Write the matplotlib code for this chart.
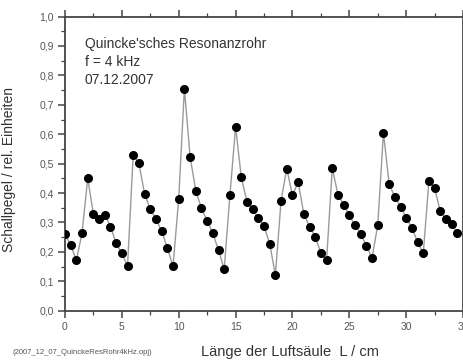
import matplotlib
matplotlib.use("Agg")
import matplotlib.pyplot as plt
from matplotlib.ticker import MultipleLocator, FuncFormatter

# Schallpegel entlang der Luftsaeule (Quincke-Rohr, f = 4 kHz)
laenge_cm = [i * 0.5 for i in range(70)]
schallpegel = [
    0.260, 0.225, 0.171, 0.263, 0.450, 0.328, 0.313, 0.327, 0.286, 0.229,
    0.195, 0.152, 0.530, 0.501, 0.397, 0.345, 0.311, 0.271, 0.213, 0.151,
    0.380, 0.755, 0.524, 0.408, 0.348, 0.305, 0.263, 0.206, 0.141, 0.392,
    0.625, 0.454, 0.371, 0.346, 0.314, 0.288, 0.227, 0.121, 0.374, 0.483,
    0.392, 0.437, 0.329, 0.286, 0.252, 0.195, 0.172, 0.484, 0.395, 0.361,
    0.324, 0.290, 0.262, 0.220, 0.180, 0.291, 0.605, 0.431, 0.387, 0.354,
    0.316, 0.281, 0.234, 0.195, 0.442, 0.416, 0.338, 0.311, 0.294, 0.264,
]

plt.rcParams["font.family"] = ["Liberation Sans", "DejaVu Sans"]
txt = "#333333"

fig = plt.figure(figsize=(4.64, 3.6), dpi=100)
ax = fig.add_axes([0.140, 0.137, 0.858, 0.817])

ax.plot(laenge_cm, schallpegel, "-", color="#9a9a9a", lw=1.0, zorder=2)
ax.plot(laenge_cm, schallpegel, "o", color="black", ms=5.5, zorder=3)

ax.set_xlim(0, 35)
ax.set_ylim(0, 1.0)
ax.xaxis.set_major_locator(MultipleLocator(5))
ax.xaxis.set_minor_locator(MultipleLocator(2.5))
ax.yaxis.set_major_locator(MultipleLocator(0.1))
ax.yaxis.set_minor_locator(MultipleLocator(0.05))
ax.yaxis.set_major_formatter(FuncFormatter(lambda v, p: f"{v:.1f}".replace(".", ",")))
ax.xaxis.set_major_formatter(FuncFormatter(lambda v, p: f"{v:.0f}"))

for s in ax.spines.values():
    s.set_color("#444444"); s.set_linewidth(1.3)
ax.tick_params(which="both", direction="out", top=True, right=True,
               colors="#444444", labelcolor="#555555", labelsize=7.5, pad=3)
ax.tick_params(which="major", length=5, width=1.1)
ax.tick_params(which="minor", length=3, width=0.9)

ax.text(0.05, 0.93, "Quincke'sches Resonanzrohr\nf = 4 kHz\n07.12.2007",
        transform=ax.transAxes, ha="left", va="top", fontsize=10,
        color=txt, linespacing=1.35)

ax.set_ylabel("Schallpegel / rel. Einheiten", fontsize=10, color=txt)
ax.yaxis.set_label_coords(-0.122, 0.48)
fig.text(290 / 464, 1 - 352 / 360, "Länge der Luftsäule  L / cm",
         ha="center", va="center", fontsize=10.5, color=txt)
fig.text(13 / 464, 1 - 353 / 360, "(2007_12_07_QuinckeResRohr4kHz.opj)",
         ha="left", va="center", fontsize=5.5, color="#555555")

fig.savefig("out.png", dpi=100)
